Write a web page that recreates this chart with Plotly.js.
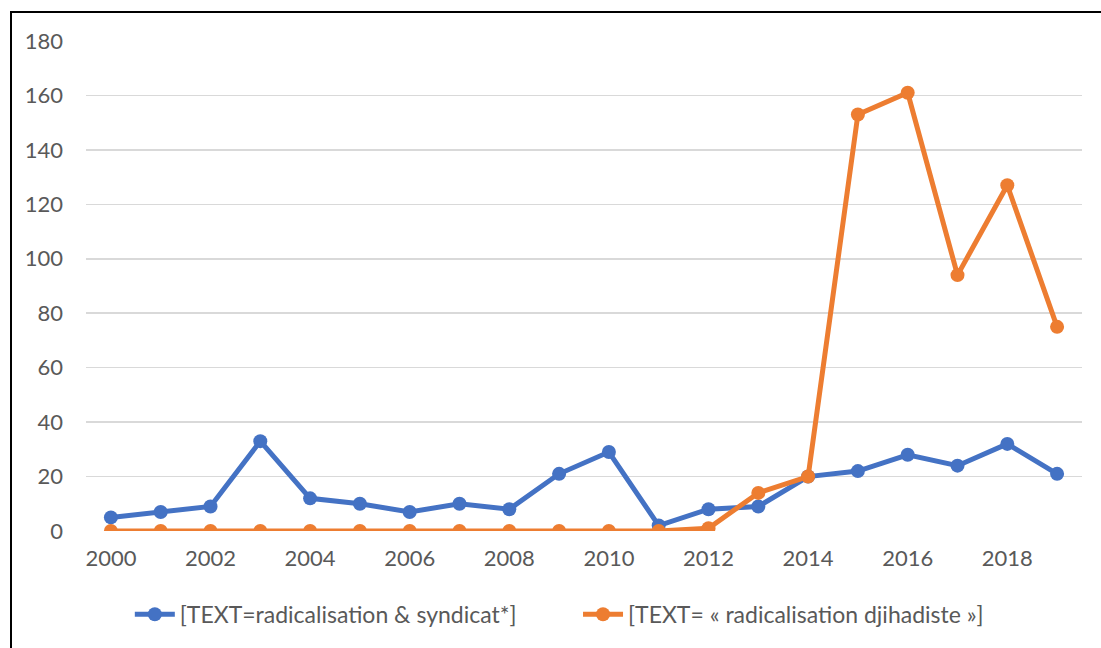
<!DOCTYPE html>
<html>
<head>
<meta charset="utf-8">
<script src="https://cdn.plot.ly/plotly-3.0.1.min.js"></script>
<style>
html,body{margin:0;padding:0;background:#fff;}
#wrap{position:relative;width:1101px;height:648px;}
#chart{width:1101px;height:648px;}
#frame{position:absolute;left:10px;top:11px;width:1091px;height:637px;border-left:2px solid #000;border-top:2px solid #000;pointer-events:none;box-sizing:border-box;}
</style>
</head>
<body>
<div id="wrap"><div id="chart"></div><div id="frame"></div></div>
<script>
const years = [2000,2001,2002,2003,2004,2005,2006,2007,2008,2009,2010,2011,2012,2013,2014,2015,2016,2017,2018,2019];
const syndicat = [5,7,9,33,12,10,7,10,8,21,29,2,8,9,20,22,28,24,32,21];
const djihadiste = [0,0,0,0,0,0,0,0,0,0,0,0,1,14,20,153,161,94,127,75];
const seriesNames = ["[TEXT=radicalisation & syndicat*]", "[TEXT= « radicalisation djihadiste »]"];
const xTicks = [2000,2002,2004,2006,2008,2010,2012,2014,2016,2018];
const yTicks = [0,20,40,60,80,100,120,140,160,180];

const traces = [
  {x: years, y: syndicat, name: seriesNames[0], mode: 'lines+markers', type: 'scatter', legend: 'legend',
   line: {color: '#4472C4', width: 5}, marker: {color: '#4472C4', size: 14}},
  {x: years, y: djihadiste, name: seriesNames[1], mode: 'lines+markers', type: 'scatter', legend: 'legend2',
   line: {color: '#ED7D31', width: 5}, marker: {color: '#ED7D31', size: 14}}
];
const legFont = {family: 'Lato, "Open Sans", sans-serif', size: 23, color: '#595959'};
const layout = {
  width: 1101, height: 648,
  margin: {l: 86, r: 19, t: 41, b: 117},
  paper_bgcolor: '#fff', plot_bgcolor: '#fff',
  font: {family: 'Lato, "Open Sans", sans-serif', size: 22, color: '#595959'},
  showlegend: true,
  legend: {orientation: 'h', x: 0.044, xanchor: 'left', y: -0.17, yanchor: 'middle', font: legFont, itemwidth: 40},
  legend2: {orientation: 'h', x: 0.494, xanchor: 'left', y: -0.17, yanchor: 'middle', font: legFont, itemwidth: 40},
  xaxis: {range: [1999.5, 2019.5], tickvals: xTicks, ticktext: xTicks.map(String),
          showgrid: false, zeroline: false, showline: false, ticks: '', ticklabelstandoff: 12,
          tickfont: {size: 22, color: '#595959'}},
  yaxis: {range: [0, 180], tickvals: yTicks, ticktext: yTicks.map(String),
          showgrid: true, gridcolor: '#D9D9D9', gridwidth: 1.5, zeroline: false, showline: false, ticks: '', ticklabelstandoff: 22,
          tickfont: {size: 22, color: '#595959'}}
};
Plotly.newPlot('chart', traces, layout, {displayModeBar: false, staticPlot: true});
</script>
</body>
</html>
